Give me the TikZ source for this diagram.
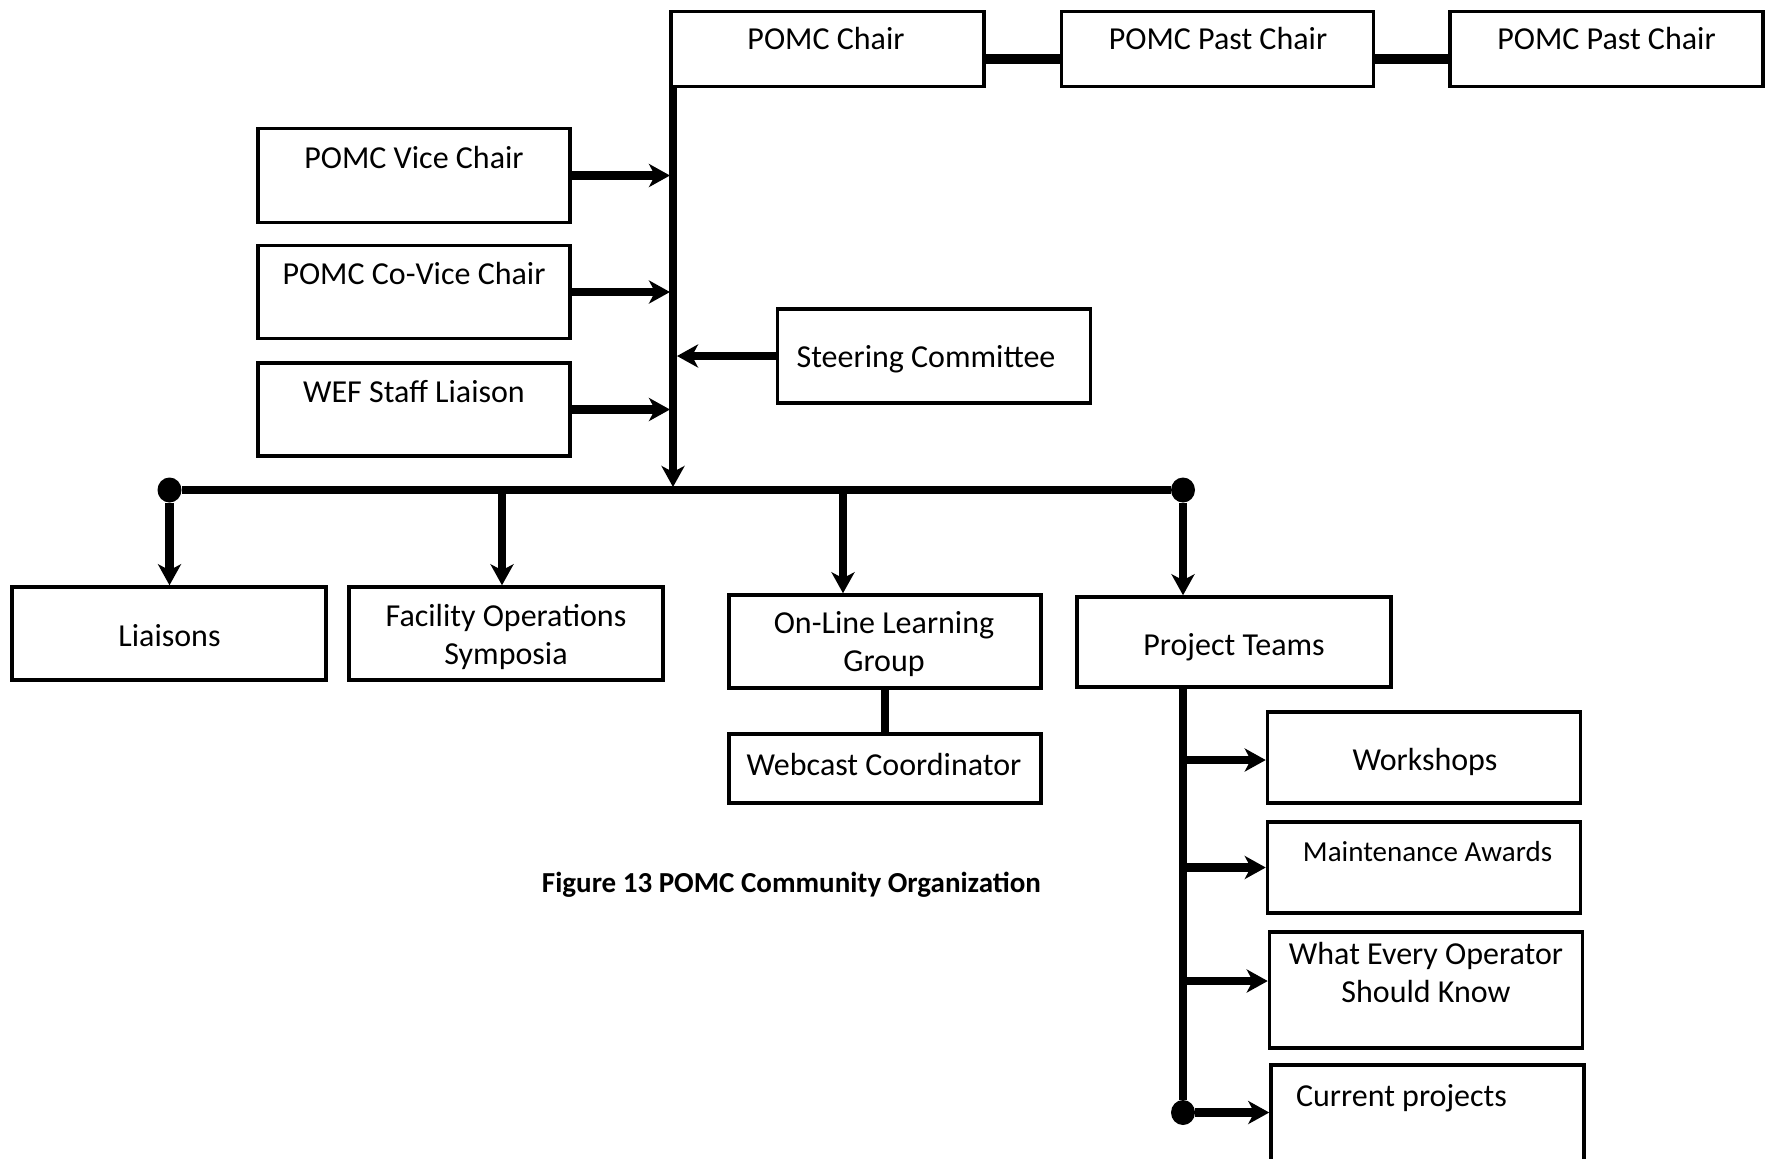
\documentclass[tikz,border=0pt]{standalone}
\usepackage{fontspec}
\setmainfont{Carlito}
\usetikzlibrary{arrows.meta,shapes.geometric}
\begin{document}
\begin{tikzpicture}[x=0.5pt,y=-0.5pt,
  box/.style 2 args={draw, line width=1.75pt, rectangle, inner sep=0pt,
    minimum width=#1*0.5pt, minimum height=#2*0.5pt},
  lbl/.style={inner sep=0pt, align=center, font=\fontsize{16pt}{19pt}\selectfont},
  one/.style={lbl, text height=10.1pt, text depth=0pt},
  small/.style={inner sep=0pt, font=\fontsize{14.5pt}{17pt}\selectfont, text height=9.2pt, text depth=0pt},
  conn/.style={line width=4.25pt},
  thickconn/.style={line width=5pt},
  tip/.style={-{Stealth[length=10.5pt,width=11.5pt,inset=3pt]}},
  dot/.style={ellipse, fill=black, inner sep=0pt, minimum width=12pt, minimum height=12.5pt},
  caption/.style={inner sep=0pt, font=\bfseries\fontsize{14.5pt}{17pt}\selectfont, text height=9.2pt, text depth=0pt}
]
\useasboundingbox (0,0) rectangle (1771,1158);

% top row
\node[box={313}{75}] (chair) at (827.5,49) {};
\node[box={312}{75}] (past1) at (1217.5,49) {};
\node[box={313}{75}] (past2) at (1606.5,49) {};
\node[one] (tchair) at (826,39) {POMC Chair};
\node[one] (tpast1) at (1218,39) {POMC Past Chair};
\node[one] (tpast2) at (1606.5,39) {POMC Past Chair};

% left column
\node[box={312}{94}] (vice) at (414,175.5) {};
\node[box={312}{93}] (covice) at (414,292) {};
\node[box={312}{93}] (wef) at (414,409.5) {};
\node[one] (tvice) at (414,158) {POMC Vice Chair};
\node[one] (tcovice) at (414,274) {POMC Co-Vice Chair};
\node[one] (twef) at (414,392) {WEF Staff Liaison};

% steering
\node[box={313}{94}] (steer) at (934,356) {};
\node[one] (tsteer) at (926,357) {Steering Committee};

% second level
\node[box={314}{93}] (liaisons) at (169,633.5) {};
\node[box={314}{93}] (facility) at (506,633.5) {};
\node[box={312}{93}] (online) at (885,641.5) {};
\node[box={312}{69}] (webcast) at (885,768.5) {};
\node[box={314}{90}] (teams) at (1234,642) {};
\node[one] (tliaisons) at (169.5,636) {Liaisons};
\node[lbl] (tfacility) at (506,636.5) {Facility Operations\\Symposia};
\node[lbl] (tonline) at (884,644.5) {On-Line Learning\\Group};
\node[one] (twebcast) at (884,765) {Webcast Coordinator};
\node[one] (tteams) at (1234,645) {Project Teams};

% project teams children
\node[box={313}{91}] (workshops) at (1424,757.5) {};
\node[box={313}{91}] (maint) at (1424,867.5) {};
\node[box={313}{116}] (every) at (1426,990) {};
\node[box={313}{104}] (current) at (1427.5,1117) {};
\node[one] (tworkshops) at (1425,760) {Workshops};
\node[small] (tmaint) at (1427.5,852.5) {Maintenance Awards};
\node[lbl] (tevery) at (1426,972.5) {What Every Operator\\Should Know};
\node[one] (tcurrent) at (1401.5,1096) {Current projects};

% caption
\node[caption] (cap) at (791.5,883) {Figure 13 POMC Community Organization};

% connectors top row
\draw[thickconn] ([yshift=-5pt]chair.east) -- ([yshift=-5pt]past1.west);
\draw[thickconn] ([yshift=-5pt]past1.east) -- ([yshift=-5pt]past2.west);

% bus and dots
\node[dot] (dL) at (169.5,490) {};
\node[dot] (dR) at (1183,490) {};
\node[dot] (dB) at (1183,1112.5) {};
\draw[conn] (dL) -- (dR);

% main trunk
\coordinate (ttop) at (673,88);
\coordinate (tend) at (673,487);
\draw[conn,tip] (ttop) -- (tend);

% arrows into trunk
\draw[conn,tip] (vice.east) -- (vice.east -| 670,0);
\draw[conn,tip] (covice.east) -- (covice.east -| 670,0);
\draw[conn,tip] (wef.east) -- (wef.east -| 670,0);
\draw[conn,tip] (steer.west) -- (steer.west -| 677,0);

% drops from bus
\coordinate (b2) at (502,490);
\coordinate (b3) at (843,490);
\draw[conn,tip] (dL) -- (dL |- liaisons.north);
\draw[conn,tip] (b2) -- (b2 |- facility.north);
\draw[conn,tip] (b3) -- (b3 |- online.north);
\draw[conn,tip] (dR) -- (dR |- teams.north);

% online - webcast
\draw[conn] (online.south) -- (webcast.north);

% project teams trunk
\draw[conn] (dB |- teams.south) -- (dB);
\coordinate (wk) at ([yshift=-1.25pt]workshops.west);
\coordinate (ev) at ([yshift=4.5pt]every.west);
\draw[conn,tip] (dB |- wk) -- (wk);
\draw[conn,tip] (dB |- maint.west) -- (maint.west);
\draw[conn,tip] (dB |- ev) -- (ev);
\draw[conn,tip] (dB) -- (dB -| current.west);
\end{tikzpicture}
\end{document}
